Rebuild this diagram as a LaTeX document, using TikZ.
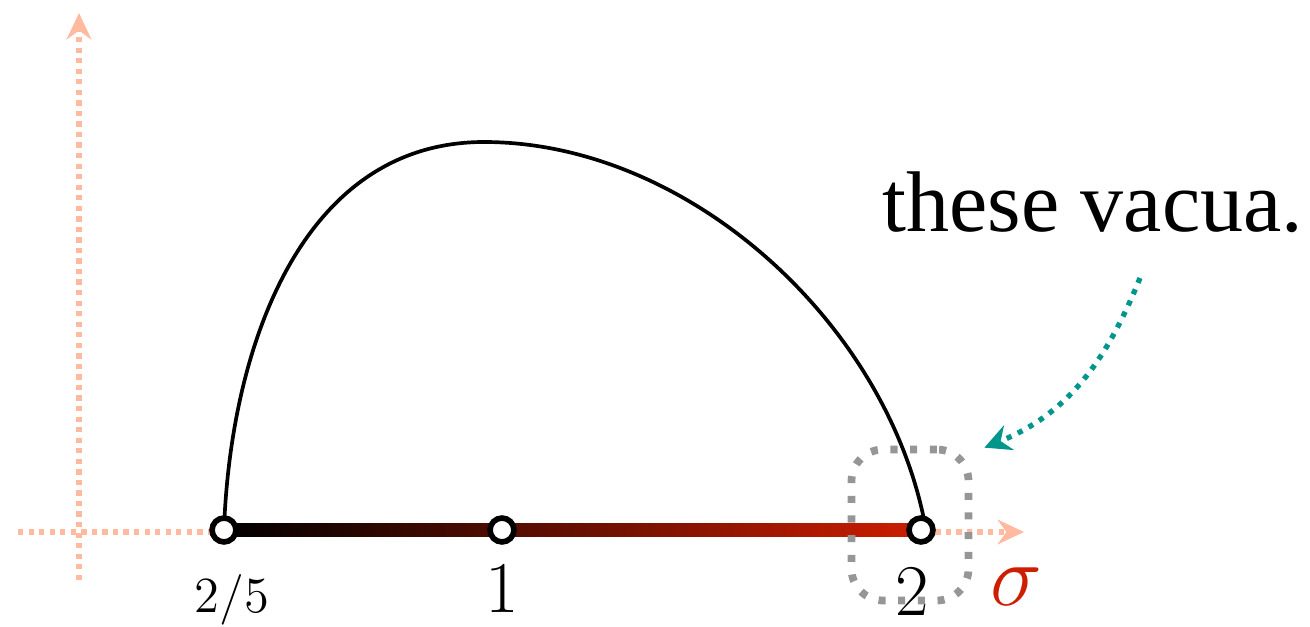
\documentclass[tikz,border=0pt]{standalone}
\usepackage{fontspec}
\newfontfamily\annfont{Liberation Serif}
\usetikzlibrary{positioning, arrows.meta, calc, backgrounds}

\definecolor{axispeach}{RGB}{255,186,160}
\definecolor{vacred}{RGB}{205,30,0}
\definecolor{arrteal}{RGB}{0,150,140}
\definecolor{boxgray}{RGB}{150,150,150}

\tikzset{
  axis/.style={axispeach, line width=1.5pt, dash pattern=on 1.5pt off 1.5pt,
    -{Stealth[length=7.5pt, width=7pt, inset=2.5pt]}},
  vacuum/.style={circle, draw=black, fill=white, line width=1.6pt,
    inner sep=0pt, minimum size=6.8pt},
  flow/.style={black, line width=1.05pt},
  regionbox/.style={draw=boxgray, line width=2.2pt, dash pattern=on 2pt off 3.6pt,
    rounded corners=9pt, minimum width=1.17cm, minimum height=1.51cm},
  pointer/.style={arrteal, line width=1.5pt, dash pattern=on 1.5pt off 2pt,
    -{Stealth[length=7.5pt, width=7.5pt, inset=2.5pt]}}
}

\begin{document}
\begin{tikzpicture}
  \useasboundingbox (0,0) rectangle (13.1,6.26);

  % --- Vacua on the sigma axis ---
  \node[vacuum] (p25) at (2.24,0.96) {};
  \node[vacuum] (p1)  at (5.02,0.96) {};
  \node[vacuum] (p2)  at (9.21,0.96) {};
  \coordinate (top) at (4.84,4.84);

  \begin{pgfonlayer}{background}
    % --- Axes ---
    \draw[axis] (0.18,0.94) -- (10.24,0.94);
    \draw[axis] (0.79,0.46) -- (0.79,6.13);

    % --- Coloured segment ---
    \shade[left color=black, right color=vacred]
      ($(p25)+(0,-0.065)$) rectangle ($(p2)+(0,0.065)$);

    % --- Flow ---
    \draw[flow] (p25.center) to[out=88, in=180] (top)
      to[out=0, in=100, looseness=0.9] ([xshift=0.05cm]p2.center);
  \end{pgfonlayer}

  % --- Labels ---
  \node[font=\fontsize{13.5}{15}\selectfont] (l25) at (2.32,0.26) {$2/5$};
  \node[font=\fontsize{21}{24}\selectfont]   (l1)  at (5.02,0.37) {$1$};
  \node[font=\fontsize{21}{24}\selectfont]   (l2)  at (9.12,0.34) {$2$};
  \node[font=\fontsize{24}{26}\selectfont, text=vacred] (sig) at (10.16,0.39) {$\sigma$};

  % --- Highlight ---
  \node[regionbox] (box) at (9.10,1.01) {};

  \node[font=\annfont\fontsize{24.5}{28}\selectfont, anchor=base west]
    (note) at (8.70,3.94) {these vacua.};
  \coordinate (from) at (11.40,3.48);
  \draw[pointer] (from) to[out=-112, in=22]
    ([shift={(0.12,-0.02)}]box.north east);

\end{tikzpicture}
\end{document}
